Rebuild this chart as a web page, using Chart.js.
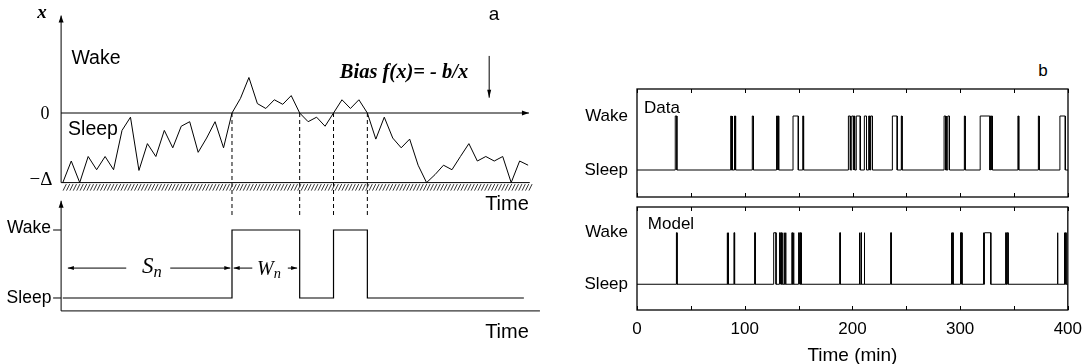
<!DOCTYPE html>
<html>
<head>
<meta charset="utf-8">
<script src="https://cdn.jsdelivr.net/npm/chart.js@4.4.1/dist/chart.umd.min.js"></script>
<style>
html, body { margin: 0; padding: 0; background: #fff; width: 1091px; height: 364px; overflow: hidden; }
body { position: relative; }
canvas { position: absolute; }
.lbl { position: absolute; transform: translate(-50%, -50%); white-space: nowrap; color: #000;
       font-family: "Liberation Sans", Arial, sans-serif; line-height: 1; }
.serif { font-family: "Liberation Serif", "Times New Roman", serif; }
.lbl sub { font-size: 0.72em; vertical-align: -0.25em; }
</style>
</head>
<body>
<canvas id="panelA" style="left:0;top:0" width="560" height="364"></canvas>
<canvas id="dataChart" style="left:560px;top:80px" width="531" height="120"></canvas>
<canvas id="modelChart" style="left:560px;top:200px" width="531" height="170"></canvas>

<!-- panel a text -->
<div class="lbl serif" style="left:42px;top:11px;font-size:19px;font-weight:bold;font-style:italic">x</div>
<div class="lbl" style="left:494px;top:13px;font-size:19px">a</div>
<div class="lbl" style="left:96px;top:58px;font-size:19.5px">Wake</div>
<div class="lbl serif" style="left:404px;top:71px;font-size:20.5px;font-weight:bold;font-style:italic">Bias f(x)= - b/x</div>
<div class="lbl serif" style="left:45px;top:113px;font-size:18px">0</div>
<div class="lbl" style="left:93px;top:129px;font-size:19.5px">Sleep</div>
<div class="lbl serif" style="left:41px;top:178px;font-size:19px">&minus;&Delta;</div>
<div class="lbl" style="left:507px;top:203px;font-size:20px">Time</div>
<div class="lbl" style="left:29px;top:228px;font-size:17.5px">Wake</div>
<div class="lbl" style="left:29px;top:298px;font-size:17.5px">Sleep</div>
<div class="lbl" style="left:507px;top:331px;font-size:20px">Time</div>
<div class="lbl serif" style="left:152px;top:267px;font-size:23px;font-style:italic">S<sub>n</sub></div>
<div class="lbl serif" style="left:269px;top:269px;font-size:20px;font-style:italic">W<sub>n</sub></div>

<!-- panel b text -->
<div class="lbl" style="left:1043px;top:70px;font-size:17px">b</div>
<div class="lbl" style="left:662px;top:107px;font-size:17px">Data</div>
<div class="lbl" style="left:671px;top:223px;font-size:17px">Model</div>

<script>
// panel a: random walk of x (units of Delta), one value per step
const walk = [-1.00, -0.69, -1.00, -0.625, -0.815, -0.625, -0.815, -0.25, -0.06, -0.825,
    -0.44, -0.625, -0.25, -0.50, -0.19, -0.125, -0.565, -0.36, -0.125, -0.50,
    0, 0.21, 0.51, 0.135, 0.065, 0.19, 0.125, 0.25, 0, -0.125,
    -0.06, -0.19, 0, 0.19, 0.065, 0.19, 0, -0.375, -0.06, -0.36,
    -0.50, -0.375, -0.75, -1.00, -0.885, -0.75, -0.815, -0.625, -0.44, -0.69,
    -0.625, -0.69, -0.625, -1.00, -0.69, -0.75];
const crossings = [20, 28, 32, 36];     // steps where x crosses 0
const wakeStartA = [20, 32];
const wakeEndA = [28, 36];
const stepEndA = 54.5;

// panel b: wake bouts [start, end] in minutes
const dataWake = [[35.5, 37], [87, 87.6], [88.2, 88.8], [90.5, 91.5], [107, 108],
    [129.5, 130.3], [130.8, 131.5], [144.8, 149.7], [153.8, 154.6],
    [196.2, 198], [199.3, 200.8], [201.3, 202], [203.5, 207.2],
    [211, 213], [215, 216], [216.8, 218.5], [237, 241.5], [245.3, 246],
    [285, 286.5], [287, 287.7], [288.5, 290], [303.8, 304.6],
    [318.5, 327.5], [328, 328.6], [329, 329.8], [353.5, 354.3], [372.5, 373.3], [392.5, 397.5]];
const modelWake = [[36.6, 37.2], [83.6, 84.1], [84.6, 85.1], [90, 90.6], [109.2, 109.8],
    [126.9, 129.1], [132.3, 132.8], [133.6, 134.1], [135, 135.5], [136.8, 137.3], [137.8, 138.3],
    [143.8, 144.3], [145.1, 145.7], [150, 150.5], [151.3, 151.8], [152.4, 152.9],
    [188.2, 188.8], [206.3, 206.8], [207.9, 208.4], [210.9, 211.4], [235.5, 236.1],
    [291.8, 292.3], [293, 293.5], [300.4, 300.9], [301.3, 301.8],
    [321.5, 322], [322.6, 328.5], [342.3, 342.8], [343.8, 344.6],
    [390.2, 390.8], [396.6, 397.1], [397.8, 398.4]];
const timeLabels = [0, 100, 200, 300, 400];
const timeTicks = [0, 50, 100, 150, 200, 250, 300, 350, 400];
const stateValues = [0, 1];
const stateLabels = ['Sleep', 'Wake'];

const FONT = '"Liberation Sans", Arial, sans-serif';

function drawArrow(ctx, x0, y0, x1, y1, head = 7, half = 2.5) {
    ctx.beginPath();
    ctx.moveTo(x0, y0);
    ctx.lineTo(x1, y1);
    ctx.stroke();
    let a = Math.atan2(y1 - y0, x1 - x0);
    ctx.beginPath();
    ctx.moveTo(x1, y1);
    ctx.lineTo(x1 - head * Math.cos(a) + half * Math.sin(a), y1 - head * Math.sin(a) - half * Math.cos(a));
    ctx.lineTo(x1 - head * Math.cos(a) - half * Math.sin(a), y1 - head * Math.sin(a) + half * Math.cos(a));
    ctx.closePath();
    ctx.fill();
}

const axesA = {
    id: 'axesA',
    afterDatasetsDraw(chart) {
        const {ctx, scales: {x, yTop, yBot}} = chart;
        const px = v => x.getPixelForValue(v);
        const axisX = px(-0.2);
        ctx.save();
        ctx.strokeStyle = '#000';
        ctx.fillStyle = '#000';
        ctx.lineWidth = 1;

        // top panel axes
        let base = yTop.getPixelForValue(-1), zero = yTop.getPixelForValue(0);
        drawArrow(ctx, axisX, base, axisX, yTop.getPixelForValue(1.40));
        drawArrow(ctx, axisX, zero, px(55.1), zero);
        ctx.beginPath();
        ctx.moveTo(axisX, base);
        ctx.lineTo(px(55.2), base);
        ctx.stroke();
        ctx.beginPath(); // hatching under the -Delta wall
        ctx.strokeStyle = '#333';
        for (let h = axisX + 2; h < px(55.2); h += 3.4) {
            ctx.moveTo(h, base + 8);
            ctx.lineTo(h + 3.2, base + 1.5);
        }
        ctx.stroke();
        ctx.strokeStyle = '#000';
        drawArrow(ctx, px(50.4), yTop.getPixelForValue(0.82), px(50.4), yTop.getPixelForValue(0.22), 8, 2);

        // bottom panel axes
        let floor = yBot.getPixelForValue(-0.19);
        drawArrow(ctx, axisX, floor, axisX, yBot.getPixelForValue(1.43));
        ctx.beginPath();
        ctx.moveTo(axisX, floor);
        ctx.lineTo(px(56.4), floor);
        stateValues.forEach(v => {
            ctx.moveTo(axisX, yBot.getPixelForValue(v));
            ctx.lineTo(axisX - 8, yBot.getPixelForValue(v));
        });
        ctx.stroke();

        // S_n and W_n spans
        let ay = yBot.getPixelForValue(0.44);
        drawArrow(ctx, px(7.5), ay, px(0.6), ay, 6, 2);
        drawArrow(ctx, px(12.7), ay, px(19.8), ay, 6, 2);
        drawArrow(ctx, px(22.4), ay, px(20.2), ay, 6, 2);
        drawArrow(ctx, px(26.6), ay, px(27.7), ay, 6, 2);
        ctx.restore();
    }
};

let stepA = [{x: 0, y: 0}];
wakeStartA.forEach((s, i) => stepA.push({x: s, y: 0}, {x: s, y: 1}, {x: wakeEndA[i], y: 1}, {x: wakeEndA[i], y: 0}));
stepA.push({x: stepEndA, y: 0});

let lineStyle = {borderColor: '#000', borderWidth: 1, pointRadius: 0, tension: 0, fill: false};

new Chart('panelA', {
    type: 'line',
    data: {
        datasets: [
            Object.assign({data: walk.map((v, i) => ({x: i, y: v})), yAxisID: 'yTop'}, lineStyle),
            Object.assign({data: stepA, yAxisID: 'yBot'}, lineStyle, {borderWidth: 1.2}),
            ...crossings.map(c => Object.assign({data: [{x: c, y: 0}, {x: c, y: -1.5}], yAxisID: 'yTop'},
                lineStyle, {borderDash: [4, 3]}))
        ]
    },
    options: {
        responsive: false,
        animation: false,
        devicePixelRatio: 1,
        layout: {padding: 0},
        plugins: {legend: {display: false}, tooltip: {enabled: false}},
        scales: {
            x: {type: 'linear', display: false, min: -7.423, max: 58.771},
            yTop: {type: 'linear', display: false, min: -3.6063, max: 1.6236},
            yBot: {type: 'linear', display: false, min: -0.9706, max: 4.3824}
        }
    },
    plugins: [axesA]
});

function wakeSteps(pulses) {
    let pts = [{x: 0, y: 0}];
    pulses.forEach(([s, e]) => pts.push({x: s, y: 0}, {x: s, y: 1}, {x: e, y: 1}, {x: e, y: 0}));
    pts.push({x: 400, y: 0});
    return pts;
}

const frameB = {
    id: 'frameB',
    afterDatasetsDraw(chart) {
        const {ctx, chartArea: a, scales: {x}} = chart;
        ctx.save();
        ctx.strokeStyle = '#000';
        ctx.lineWidth = 1.3;
        ctx.strokeRect(a.left, a.top, a.right - a.left, a.bottom - a.top);
        ctx.lineWidth = 1;
        ctx.beginPath();
        timeTicks.forEach(t => {
            let p = Math.round(x.getPixelForValue(t)) + 0.5;
            ctx.moveTo(p, a.top);
            ctx.lineTo(p, a.top + 4);
            ctx.moveTo(p, a.bottom);
            ctx.lineTo(p, a.bottom - 4);
        });
        ctx.stroke();
        ctx.restore();
    }
};

function createStateChart(canvasId, pulses, showTime, padTop, padBottom) {
    return new Chart(canvasId, {
        type: 'line',
        data: {datasets: [Object.assign({data: wakeSteps(pulses)}, lineStyle)]},
        options: {
            responsive: false,
            animation: false,
            devicePixelRatio: 1,
            layout: {padding: {top: padTop, right: 23, bottom: padBottom, left: 0}},
            plugins: {legend: {display: false}, tooltip: {enabled: false}},
            scales: {
                x: {
                    type: 'linear', min: 0, max: 400, display: showTime,
                    grid: {display: false, drawTicks: false}, border: {display: false},
                    afterBuildTicks: s => { s.ticks = timeLabels.map(v => ({value: v})); },
                    ticks: {padding: 9, color: '#000', maxRotation: 0, font: {size: 17, family: FONT}},
                    title: {display: true, text: 'Time (min)', color: '#000', padding: {top: 0, bottom: 3},
                        font: {size: 19, family: FONT}},
                    afterFit: s => { s.height = showTime ? 60 : 0; }
                },
                y: {
                    min: -0.5, max: 1.5,
                    grid: {display: false, drawTicks: false}, border: {display: false},
                    afterBuildTicks: s => { s.ticks = stateValues.map(v => ({value: v})); },
                    ticks: {padding: 9, color: '#000', font: {size: 17, family: FONT},
                        callback: v => stateLabels[v]},
                    afterFit: s => { s.width = 77; s.paddingTop = 0; s.paddingBottom = 0; }
                }
            }
        },
        plugins: [frameB]
    });
}

createStateChart('dataChart', dataWake, false, 9, 3);
createStateChart('modelChart', modelWake, true, 7, 0);
</script>
</body>
</html>
